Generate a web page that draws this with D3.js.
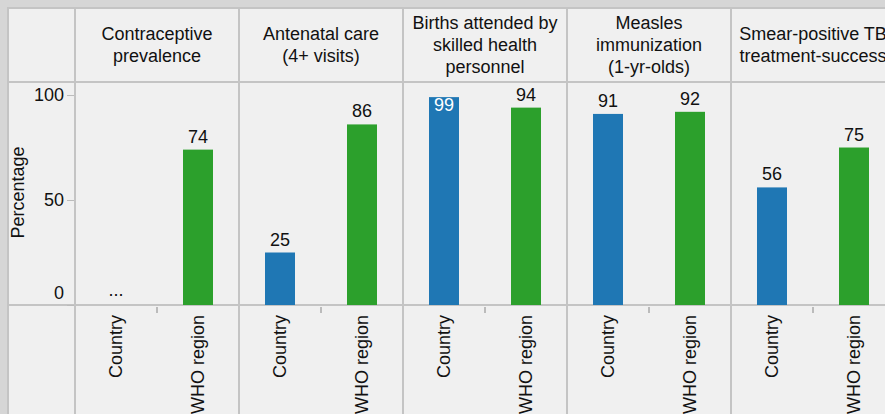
<!DOCTYPE html>
<html>
<head>
<meta charset="utf-8">
<script src="https://cdn.jsdelivr.net/npm/d3@7"></script>
<style>
  body { margin: 0; background: #d6d6d6; overflow: hidden; }
  text { font-family: "Liberation Sans", Arial, sans-serif; fill: #111; }
</style>
</head>
<body>
<div id="chart"></div>
<script>
const indicators = [
    ["Contraceptive", "prevalence"],
    ["Antenatal care", "(4+ visits)"],
    ["Births attended by", "skilled health", "personnel"],
    ["Measles", "immunization", "(1-yr-olds)"],
    ["Smear-positive TB", "treatment-success"]
];
const groups = ["Country", "WHO region"];
const countryValues = [null, 25, 99, 91, 56];
const regionValues = [74, 86, 94, 92, 75];
const yTicks = [0, 50, 100];

const width = 885, height = 414;
const padLeft = 8, padTop = 8, axisW = 67, colW = 164, headerH = 74, plotH = 223;
const border = "#c4c4c4";
const fontSize = 18;
const colors = { "Country": "#1f77b4", "WHO region": "#2ca02c" };

const svg = d3.select("#chart").append("svg")
    .attr("width", width)
    .attr("height", height)
    .style("display", "block");

svg.append("rect")
    .attr("x", padLeft).attr("y", padTop)
    .attr("width", width).attr("height", height)
    .attr("fill", "#f0f0f0")
    .attr("stroke", border).attr("stroke-width", 2);

const plotTop = padTop + headerH;
const plotBottom = plotTop + plotH;

const y = d3.scaleLinear().domain([0, 106.2]).range([plotBottom, plotTop]);

const x0 = d3.scaleBand()
    .domain(indicators.map((d, i) => i))
    .range([padLeft + axisW, padLeft + axisW + colW * indicators.length]);

const x1 = d3.scaleBand().domain(groups).range([0, colW]);
const barW = 30;

// grid lines
const grid = svg.append("g").attr("stroke", border).attr("stroke-width", 2);
grid.append("line")
    .attr("x1", padLeft).attr("x2", width)
    .attr("y1", plotTop).attr("y2", plotTop);
grid.append("line")
    .attr("x1", padLeft).attr("x2", width)
    .attr("y1", plotBottom).attr("y2", plotBottom);
indicators.forEach((d, i) => {
    grid.append("line")
        .attr("x1", x0(i)).attr("x2", x0(i))
        .attr("y1", padTop).attr("y2", height);
});

// y axis
const yAxis = svg.append("g")
    .attr("transform", `translate(${padLeft + axisW - 1},0)`)
    .call(d3.axisLeft(y).tickValues(yTicks).tickSize(7).tickPadding(3));
yAxis.select(".domain").remove();
yAxis.selectAll(".tick line").attr("stroke", "#bbb");
yAxis.selectAll(".tick text").attr("font-size", fontSize).attr("fill", "#111")
    .attr("font-family", "Liberation Sans, Arial, sans-serif");
// keep the 0 label inside the plot, above the bottom line
yAxis.selectAll(".tick").filter(d => d === 0).select("text").attr("dy", "-0.35em");

svg.append("text")
    .attr("transform", `translate(24,${(plotTop + plotBottom) / 2 - 1}) rotate(-90)`)
    .attr("text-anchor", "middle")
    .attr("font-size", fontSize)
    .text("Percentage");

// headers
indicators.forEach((rows, i) => {
    const cx = x0(i) + colW / 2;
    const lh = 22;
    const startY = padTop + headerH / 2 - (rows.length - 1) * lh / 2;
    const t = svg.append("text")
        .attr("text-anchor", "middle")
        .attr("font-size", fontSize);
    rows.forEach((l, j) => {
        t.append("tspan")
            .attr("x", cx)
            .attr("y", startY + j * lh)
            .attr("dy", "0.35em")
            .text(l);
    });
});

// bars
const data = [];
indicators.forEach((d, i) => {
    data.push({ col: i, group: "Country", value: countryValues[i] });
    data.push({ col: i, group: "WHO region", value: regionValues[i] });
});

const cell = svg.append("g").selectAll("g")
    .data(data)
    .enter().append("g")
    .attr("transform", d => `translate(${x0(d.col) + x1(d.group) + x1.bandwidth() / 2},0)`);

cell.filter(d => d.value !== null)
    .append("rect")
    .attr("x", -barW / 2)
    .attr("width", barW)
    .attr("y", d => y(d.value))
    .attr("height", d => y(0) - y(d.value))
    .attr("fill", d => colors[d.group]);

cell.append("text")
    .attr("text-anchor", "middle")
    .attr("font-size", fontSize)
    .attr("y", d => d.value === null ? y(0) - 9 : (d.value > 97 ? y(d.value) + 14 : y(d.value) - 7))
    .style("fill", d => d.value !== null && d.value > 97 ? "#fff" : "#111")
    .text(d => d.value === null ? "..." : d.value);

// bottom ticks between groups
indicators.forEach((d, i) => {
    svg.append("line")
        .attr("x1", x0(i) + x1("WHO region")).attr("x2", x0(i) + x1("WHO region"))
        .attr("y1", plotBottom + 2).attr("y2", plotBottom + 8)
        .attr("stroke", "#bbb").attr("stroke-width", 2);
});

// group labels
cell.append("text")
    .attr("transform", `translate(6,${plotBottom + 10}) rotate(-90)`)
    .attr("text-anchor", "end")
    .attr("font-size", fontSize)
    .text(d => d.group);
</script>
</body>
</html>
